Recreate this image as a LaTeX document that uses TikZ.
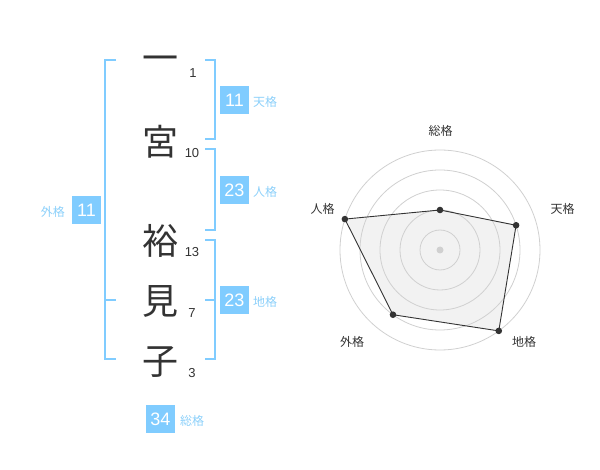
\documentclass[tikz,border=0pt]{standalone}
\usepackage{fontspec}
\setmainfont{Liberation Sans}
\newfontfamily\jpfont{Noto Sans CJK JP}
\usepackage{xcolor}
\usepackage{tikz}
\usetikzlibrary{calc}

\definecolor{kakublue}{HTML}{80CCFF}
\definecolor{labelblue}{HTML}{8CD0FA}
\definecolor{inkgray}{HTML}{333333}
\definecolor{ringgray}{HTML}{D0D0D0}
\definecolor{areagray}{HTML}{F2F2F2}

\begin{document}
\begin{tikzpicture}[
        x=1pt, y=-1pt,
        kanji/.style={
            font=\jpfont\fontsize{36}{36}\selectfont,
            text=inkgray,
            inner sep=0pt,
            text height=31.7pt,
            text depth=4.3pt
        },
        strokes/.style={
            font=\fontsize{13}{13}\selectfont,
            text=inkgray,
            inner sep=0pt
        },
        kakubox/.style={
            rectangle,
            fill=kakublue,
            text=white,
            font=\fontsize{18}{18}\selectfont,
            minimum width=29pt,
            minimum height=28pt,
            inner sep=0pt
        },
        kakulabel/.style={
            font=\jpfont\fontsize{12}{12}\selectfont,
            text=labelblue,
            inner sep=0pt
        },
        radarlabel/.style={
            font=\jpfont\fontsize{12}{12}\selectfont,
            text=inkgray,
            inner sep=0pt
        },
        bracket/.style={draw=kakublue, line width=2pt},
        ring/.style={draw=ringgray, line width=0.8pt}
    ]
    \useasboundingbox (0,0) rectangle (600,470);

    % ---------- Left: name and stroke counts ----------
    \node[kanji] (k1) at (160, 58) {一};
    \node[kanji] (k2) at (160,142) {宮};
    \node[kanji] (k3) at (160,241) {裕};
    \node[kanji] (k4) at (160,301) {見};
    \node[kanji] (k5) at (160,361) {子};

    \node[strokes] (s1) at (193, 73) {1};
    \node[strokes] (s2) at (192,153) {10};
    \node[strokes] (s3) at (192,252) {13};
    \node[strokes] (s4) at (192,313) {7};
    \node[strokes] (s5) at (192,373) {3};

    % brackets
    \draw[bracket] (116,60) -| (105,359) -- (116,359);
    \draw[bracket] (105,300) -- (116,300);
    \draw[bracket] (205,60) -| (215,139) -- (205,139);
    \draw[bracket] (205,149) -| (215,230) -- (205,230);
    \draw[bracket] (205,240) -| (215,359) -- (205,359);
    \draw[bracket] (205,300) -- (215,300);

    % kaku values
    \node[kakubox] (ten) at (234.5,100) {11};
    \node[kakubox] (jin) at (234.5,190) {23};
    \node[kakubox] (chi) at (234.5,300) {23};
    \node[kakubox] (gai) at ( 86.5,210) {11};
    \node[kakubox] (sou) at (160.5,419) {34};

    \node[kakulabel, anchor=west] (tenlabel) at (253,102) {天格};
    \node[kakulabel, anchor=west] (jinlabel) at (253,192) {人格};
    \node[kakulabel, anchor=west] (chilabel) at (253,302) {地格};
    \node[kakulabel, anchor=east] (gailabel) at ( 65,212) {外格};
    \node[kakulabel, anchor=west] (soulabel) at (180,421) {総格};

    % ---------- Right: radar chart ----------
    \coordinate (c) at (440,250);
    \foreach \name/\ang/\rad in {sou/-90/40, ten/-18/80, chi/54/100, gai/126/80, jin/198/100}
        \coordinate (p\name) at ($(c)+(\ang:\rad)$);

    \fill[areagray] (psou) -- (pten) -- (pchi) -- (pgai) -- (pjin) -- cycle;
    \foreach \r in {20,40,60,80,100}
        \draw[ring] (c) circle[radius=\r pt];
    \draw[inkgray, line width=0.9pt] (psou) -- (pten) -- (pchi) -- (pgai) -- (pjin) -- cycle;
    \foreach \name in {sou,ten,chi,gai,jin}
        \fill[inkgray] (p\name) circle[radius=3.3pt];
    \fill[ringgray] (c) circle[radius=3.5pt];

    \node[radarlabel] (rsou) at (440.5,131) {総格};
    \node[radarlabel] (rten) at (562.5,209) {天格};
    \node[radarlabel] (rchi) at (524,342) {地格};
    \node[radarlabel] (rgai) at (352,342) {外格};
    \node[radarlabel] (rjin) at (322.5,209) {人格};

\end{tikzpicture}
\end{document}
